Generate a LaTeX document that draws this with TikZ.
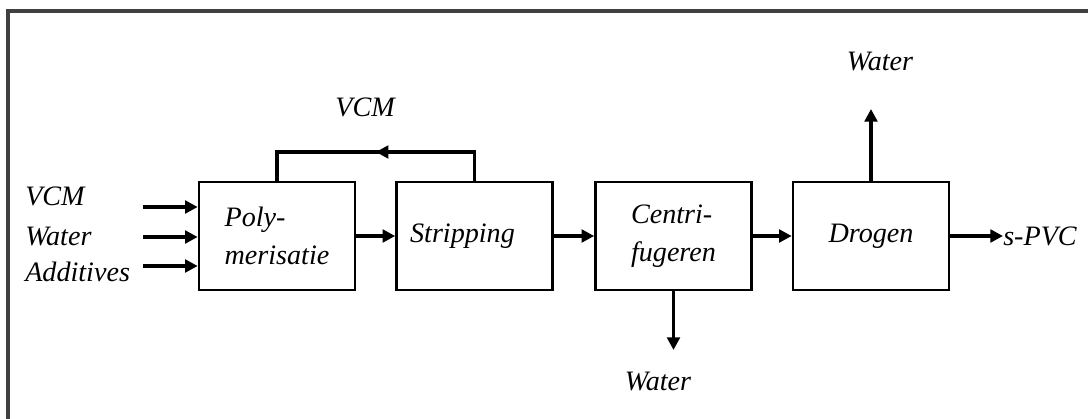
\documentclass[tikz,border=0pt]{standalone}
\usepackage{fontspec}
\setmainfont{Liberation Serif}
\usetikzlibrary{arrows.meta,positioning,decorations.markings}

\tikzset{
  unit/.style={draw,line width=1.8pt,minimum width=3.9cm,minimum height=2.7cm,
    align=left,font=\fontsize{20}{27}\selectfont\itshape},
  flow/.style={line width=2.3pt,-{Triangle[length=9pt,width=9pt]}},
  label/.style={font=\fontsize{20}{24}\selectfont\itshape,inner sep=0pt},
  midflow/.style={line width=2.3pt,postaction={decorate},decoration={markings,
    mark=at position 0.5 with {\arrow{Triangle[length=9pt,width=9pt]}}}}
}

\begin{document}
\begin{tikzpicture}[x=0.025cm,y=-0.025cm]
  \useasboundingbox (0,0) rectangle (1088,419);
  % frame
  \draw[line width=2.4pt,black!75] (8,419) -- (8,11) -- (1088,11);

  % process units
  \node[unit] (poly) at (277,236) {Poly-\\merisatie};
  \node[unit] (strip) at (474.5,236) {Stripping\hspace*{0.6cm}};
  \node[unit] (centri) at (673.5,236) {Centri-\\fugeren};
  \node[unit] (drogen) at (871,236) {Drogen};

  % feeds
  \node[label,anchor=west] (vcmin) at (25,196) {VCM};
  \node[label,anchor=west] (waterin) at (25,237) {Water};
  \node[label,anchor=west] (addin) at (25,272) {Additives};
  \coordinate (f1) at (143,207);
  \coordinate (f2) at (143,237);
  \coordinate (f3) at (143,266);
  \foreach \f in {f1,f2,f3}{
    \draw[flow] (\f) -- (poly.west |- \f);
  }

  % main line
  \draw[flow] (poly) -- (strip);
  \draw[flow] (strip) -- (centri);
  \draw[flow] (centri) -- (drogen);
  \node[label,anchor=west] (pvc) at (1003,236) {s-PVC};
  \draw[flow] (drogen) -- (pvc.west);

  % VCM recycle
  \coordinate (fb) at (0,152);
  \draw[midflow] (strip.north) -- (strip.north |- fb) -- (poly.north |- fb) -- (poly.north);
  \node[label] (vcmrec) at (365,107) {VCM};

  % water out
  \node[label] (wtop) at (880,62) {Water};
  \coordinate (wtopend) at (871,109);
  \draw[flow] (drogen.north) -- (wtopend);
  \node[label] (wbot) at (658,382) {Water};
  \coordinate (wbotend) at (673.5,350);
  \draw[flow] (centri.south) -- (wbotend);
\end{tikzpicture}
\end{document}
